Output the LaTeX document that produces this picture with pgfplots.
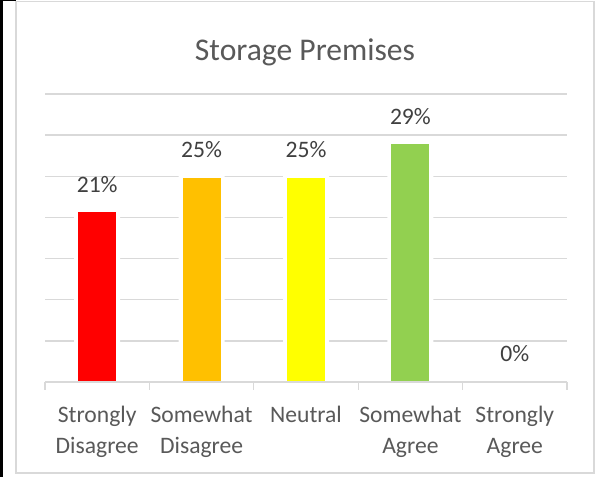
\documentclass[border=0pt]{standalone}
\usepackage{pgfplots}
\pgfplotsset{compat=1.18}
\usepackage{fontspec}
\setmainfont{Carlito}
\definecolor{gridgray}{HTML}{D9D9D9}
\definecolor{txtgray}{HTML}{595959}
\definecolor{lblgray}{HTML}{404040}
\definecolor{cred}{HTML}{FF0000}
\definecolor{corange}{HTML}{FFC000}
\definecolor{cyellow}{HTML}{FFFF00}
\definecolor{cgreen}{HTML}{92D050}
\begin{document}
\begin{tikzpicture}[x=1bp,y=1bp]
\useasboundingbox (0,0) rectangle (596,477);
\fill[white] (0,0) rectangle (596,477);
\draw[gridgray, line width=1.5bp] (16,4) rectangle (594,475.5);
\fill[black] (0,0) rectangle (3,477);
\fill[black] (0,476.2) rectangle (16,477);
\node[anchor=base, font=\fontsize{31.6bp}{38bp}\selectfont, text=txtgray, inner sep=0] at (305,416) {Storage Premises};
\begin{axis}[
  at={(45bp,95bp)}, anchor=south west,
  scale only axis, width=522bp, height=288bp,
  xmin=-0.5, xmax=4.5, ymin=0, ymax=35,
  /pgf/number format/assume math mode=true,
  axis x line*=bottom, axis y line*=left,
  y axis line style={draw=none},
  x axis line style={draw=none},
  ytick={0,5,...,35}, yticklabels={}, ytick style={draw=none},
  ymajorgrids, grid style={gridgray, line width=1.3bp},
  xtick={0,...,4},
  xticklabels={{Strongly\\Disagree},{Somewhat\\Disagree},{Neutral},{Somewhat\\Agree},{Strongly\\Agree}},
  major x tick style={draw=none},
  major tick length=0bp,
  minor xtick={-0.5,0.5,...,4.5},
  minor x tick style={gridgray, line width=1.3bp},
  minor tick length=8bp,
  tick align=outside,
  xticklabel style={align=center, font=\fontsize{23.6bp}{30.5bp}\selectfont, text=txtgray, anchor=north, inner sep=0pt, yshift=-24bp},
  ybar, bar width=38bp, bar shift=0pt,
  clip=false,
  nodes near coords style={font=\fontsize{23.6bp}{28bp}\selectfont, text=lblgray, anchor=base, inner sep=0pt, yshift=20bp},
]
\addplot[fill=white, draw=none, bar width=46bp] coordinates {(0,21.1) (1,25.3) (2,25.3) (3,29.4)};
\addplot[fill=cred, draw=none, nodes near coords={\pgfmathprintnumber[fixed,precision=0]{\pgfplotspointmeta}\%}] coordinates {(0,20.6)};
\addplot[fill=corange, draw=none, nodes near coords={\pgfmathprintnumber[fixed,precision=0]{\pgfplotspointmeta}\%}] coordinates {(1,24.8)};
\addplot[fill=cyellow, draw=none, nodes near coords={\pgfmathprintnumber[fixed,precision=0]{\pgfplotspointmeta}\%}] coordinates {(2,24.8)};
\addplot[fill=cgreen, draw=none, nodes near coords={\pgfmathprintnumber[fixed,precision=0]{\pgfplotspointmeta}\%}] coordinates {(3,28.9)};
\addplot[fill=none, draw=none, nodes near coords={\pgfmathprintnumber[fixed,precision=0]{\pgfplotspointmeta}\%}] coordinates {(4,0)};
\draw[gridgray, line width=1.3bp] (rel axis cs:0,0) -- (rel axis cs:1,0);
\end{axis}
\end{tikzpicture}
\end{document}
